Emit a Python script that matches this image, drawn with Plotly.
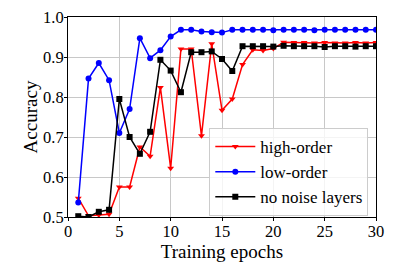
import plotly.graph_objects as go

epochs = list(range(1, 31))
high_order = [0.547, 0.503, 0.505, 0.507, 0.575, 0.575, 0.675, 0.652, 0.824, 0.622,
              0.920, 0.920, 0.703, 0.933, 0.767, 0.795, 0.881, 0.918, 0.916, 0.921,
              0.937, 0.936, 0.936, 0.935, 0.936, 0.935, 0.935, 0.936, 0.935, 0.936]
low_order = [0.536, 0.846, 0.885, 0.842, 0.710, 0.770, 0.947, 0.897, 0.917, 0.951,
             0.968, 0.968, 0.964, 0.962, 0.961, 0.968, 0.968, 0.968, 0.968, 0.967,
             0.968, 0.968, 0.968, 0.967, 0.968, 0.968, 0.968, 0.968, 0.968, 0.968]
no_noise = [0.502, 0.500, 0.513, 0.518, 0.795, 0.700, 0.658, 0.713, 0.893, 0.866,
            0.812, 0.912, 0.912, 0.914, 0.895, 0.865, 0.927, 0.927, 0.927, 0.926,
            0.928, 0.927, 0.927, 0.927, 0.925, 0.927, 0.927, 0.926, 0.927, 0.927]

series = [
    ("high-order", high_order, "#ff0000", "triangle-down"),
    ("low-order", low_order, "#0000ff", "circle"),
    ("no noise layers", no_noise, "#000000", "square"),
]

fig = go.Figure()
for name, vals, color, sym in series:
    fig.add_trace(go.Scatter(
        x=epochs, y=vals, name=name, mode="lines+markers",
        line=dict(color=color, width=1.5),
        marker=dict(color=color, symbol=sym, size=6),
    ))

font = "Liberation Serif"
fig.update_layout(
    width=409, height=257,
    margin=dict(l=60, r=41, t=9, b=48, pad=0),
    paper_bgcolor="white", plot_bgcolor="white",
    font=dict(family=font, size=17, color="black"),
    showlegend=True,
    legend=dict(x=0.975, y=0.005, xanchor="right", yanchor="bottom",
                bordercolor="#cccccc", borderwidth=1, bgcolor="rgba(255,255,255,0.8)",
                font=dict(family=font, size=17), tracegroupgap=0,
                itemwidth=40),
)
fig.update_xaxes(
    range=[0, 30], tickvals=[0, 5, 10, 15, 20, 25, 30],
    showgrid=True, gridcolor="#c8c8c8", gridwidth=1,
    showline=True, linecolor="black", linewidth=1, mirror=True,
    ticks="outside", ticklen=3, tickcolor="black", automargin=False,
    ticklabelstandoff=-4, ticklabeloverflow="allow",
    title=dict(text="Training epochs", font=dict(family=font, size=19), standoff=0),
    tickfont=dict(family=font, size=16.5), zeroline=False,
)
fig.update_yaxes(
    range=[0.5, 1.0], tickvals=[0.5, 0.6, 0.7, 0.8, 0.9, 1.0],
    ticktext=["0.5", "0.6", "0.7", "0.8", "0.9", "1.0"],
    showgrid=True, gridcolor="#c8c8c8", gridwidth=1,
    showline=True, linecolor="black", linewidth=1, mirror=True,
    ticks="outside", ticklen=3, tickcolor="black", automargin=False,
    ticklabelstandoff=-3, ticklabeloverflow="allow",
    title=dict(text="Accuracy", font=dict(family=font, size=19), standoff=0),
    tickfont=dict(family=font, size=16.5), zeroline=False,
)
fig.write_html("out.html")
